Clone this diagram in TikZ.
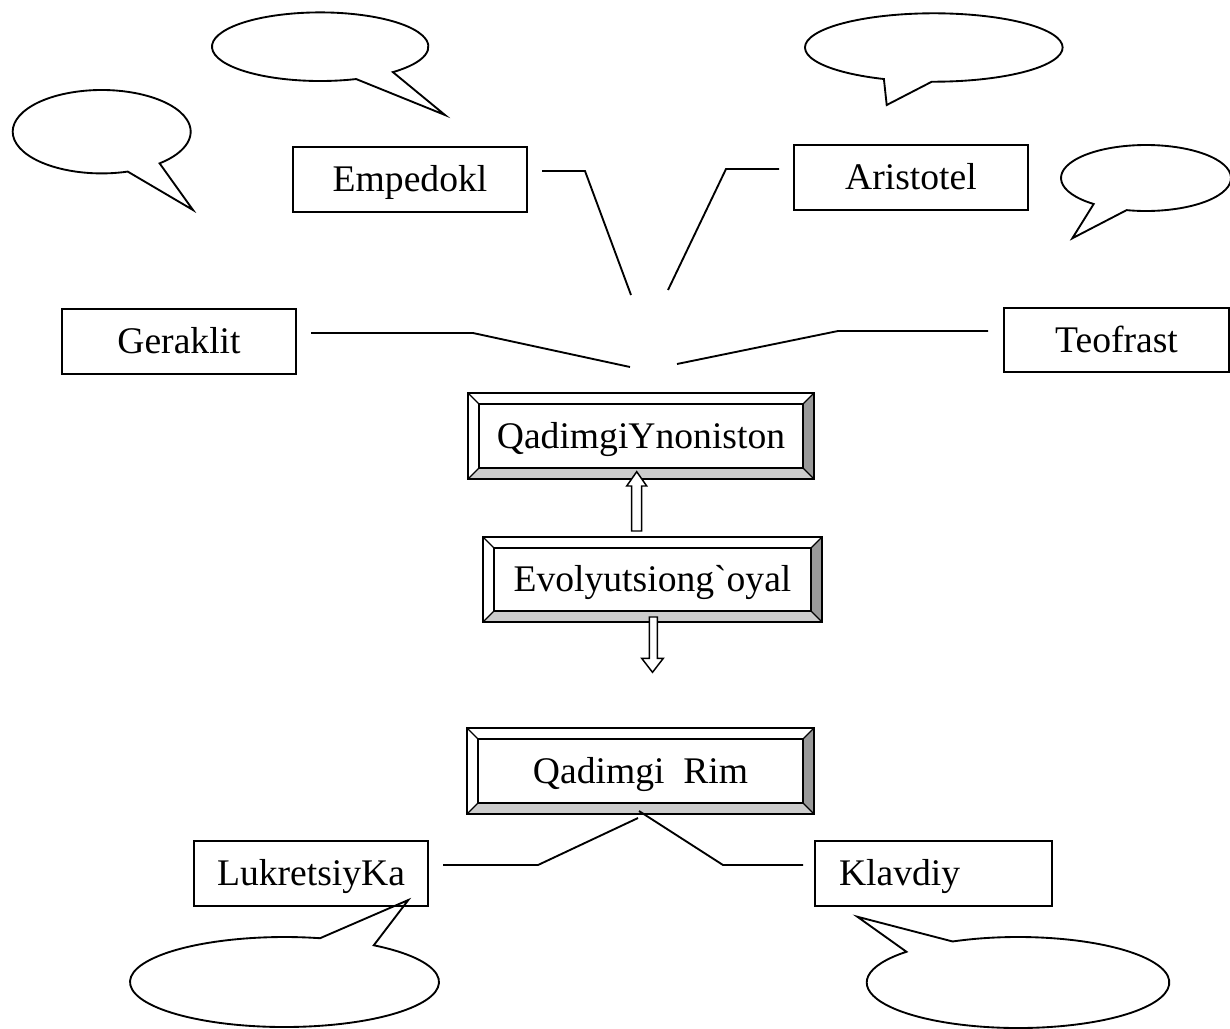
\documentclass[tikz,border=0pt]{standalone}
\usepackage{fontspec}
\setmainfont{Liberation Serif}
\newfontfamily\rawserif{Liberation Serif}[Ligatures=TeXOff]
\usetikzlibrary{calc}
\definecolor{bevdark}{HTML}{999999}
\definecolor{bevlight}{HTML}{CCCCCC}
\newcommand{\bfs}{\fontsize{28.2}{33}\selectfont}
\tikzset{
  lw/.style={line width=1.4pt},
  txt/.style={font=\bfs, text height=18.6pt, text depth=0pt},
  plainbox/.style={draw, lw, rectangle, inner sep=0pt, outer sep=0pt, txt},
  bevout/.style={draw, lw, fill=white, rectangle, inner sep=0pt, outer sep=0pt, txt},
  conn/.style={lw, line join=miter},
  blockarrow/.style={draw, fill=white, line width=1.1pt, line join=miter},
  bubble/.style={draw, fill=white, line width=1.4pt, line join=miter},
}
% name, cx, cy, w, h, text
\newcommand{\bevelbox}[6]{%
  \node[bevout, minimum width=#4*0.75pt, minimum height=#5*0.75pt] (#1) at (#2,#3) {#6};
  \fill[bevlight] (#1.south west) -- (#1.south east) -- ($(#1.south east)+(-11,-11)$) -- ($(#1.south west)+(11,-11)$) -- cycle;
  \fill[bevdark] (#1.south east) -- (#1.north east) -- ($(#1.north east)+(-11,11)$) -- ($(#1.south east)+(-11,-11)$) -- cycle;
  \draw[lw] (#1.south west) rectangle (#1.north east);
  \draw[lw] ($(#1.south west)+(11,-11)$) rectangle ($(#1.north east)+(-11,11)$);
  \draw[line width=1pt] (#1.south west) -- ++(11,-11) (#1.south east) -- ++(-11,-11)
     (#1.north east) -- ++(-11,11) (#1.north west) -- ++(11,11);
}
% cx, cy, rx, ry, start, end, tipx, tipy
\newcommand{\bubbleshape}[8]{%
  \draw[bubble] ($(#1,#2)+(#5:#3 and #4)$) arc[start angle=#5, end angle=#6, x radius=#3, y radius=#4] -- (#7,#8) -- cycle;
}
\begin{document}
\begin{tikzpicture}[x=0.75pt,y=-0.75pt]
\useasboundingbox (0,0) rectangle (1230,1028);

% speech bubbles
\bubbleshape{101.7}{131.7}{89}{41.7}{73}{409.4}{193}{210}
\bubbleshape{320.2}{46.7}{108.2}{34.3}{70.6}{407.8}{445}{115}
\bubbleshape{933.8}{47.5}{128.8}{34.2}{112.8}{450.9}{886.7}{105}
\bubbleshape{1146}{178}{85}{33}{128}{463.2}{1072.3}{238.3}
\bubbleshape{284.5}{982}{154.5}{45}{-54.7}{283.3}{408.3}{900}
\bubbleshape{1018}{982.5}{151.3}{45.5}{244.4}{582.5}{857.3}{916.7}

% plain boxes
\node[plainbox, minimum width=234*0.75pt, minimum height=65*0.75pt] (emp) at (410,179.5) {Empedokl};
\node[plainbox, minimum width=234*0.75pt, minimum height=65*0.75pt] (ari) at (911,177.5) {Aristotel};
\node[plainbox, minimum width=234*0.75pt, minimum height=65*0.75pt] (ger) at (179,341.5) {Geraklit};
\node[plainbox, minimum width=225*0.75pt, minimum height=64*0.75pt] (teo) at (1116.5,340) {Teofrast};
\node[plainbox, minimum width=234*0.75pt, minimum height=65*0.75pt] (luk) at (311,873.5) {LukretsiyKa};
\node[plainbox, text width=189*0.75pt, inner xsep=24*0.75pt, align=left, minimum height=65*0.75pt] (kla) at (933.5,873.5) {Klavdiy};

% bevel boxes
\bevelbox{gre}{641}{436}{346}{86}{QadimgiYnoniston}
\bevelbox{evo}{652.5}{579.5}{339}{85}{Evolyutsiong{\rawserif\char"60}oyal}
\bevelbox{rim}{640.5}{771}{347}{86}{Qadimgi\ \ Rim}

% connector points
\coordinate (empA) at (542,171); \coordinate (empB) at (585,171); \coordinate (empC) at (631,295);
\coordinate (ariA) at (779,169); \coordinate (ariB) at (726,169); \coordinate (ariC) at (668,290);
\coordinate (gerA) at (311,333); \coordinate (gerB) at (473,333); \coordinate (gerC) at (630,367);
\coordinate (teoA) at (988,331); \coordinate (teoB) at (838,331); \coordinate (teoC) at (677,364);
\coordinate (lukA) at (443,865); \coordinate (lukB) at (538,865); \coordinate (lukC) at (638,818);
\coordinate (klaA) at (803,865); \coordinate (klaB) at (723,865); \coordinate (klaC) at (639,811);

\draw[conn] (empA) -- (empB) -- (empC);
\draw[conn] (ariA) -- (ariB) -- (ariC);
\draw[conn] (gerA) -- (gerB) -- (gerC);
\draw[conn] (teoA) -- (teoB) -- (teoC);
\draw[conn] (lukA) -- (lukB) -- (lukC);
\draw[conn] (klaA) -- (klaB) -- (klaC);

% block arrows
\coordinate (upS) at (636.7,531); \coordinate (upT) at (636.7,471.7);
\draw[blockarrow] ($(upS)+(-5,0)$) -- ($(upS)+(5,0)$) -- (641.7,486) -- (646.7,486) -- (upT)
   -- (626.7,486) -- (631.7,486) -- cycle;
\coordinate (dnS) at (653.3,617); \coordinate (dnT) at (652.5,672.3);
\draw[blockarrow] (649.3,617) -- (657.3,617) -- (657.3,658.3) -- (663.3,658.3) -- (dnT)
   -- (641.7,658.3) -- (649.3,658.3) -- cycle;
\end{tikzpicture}
\end{document}
